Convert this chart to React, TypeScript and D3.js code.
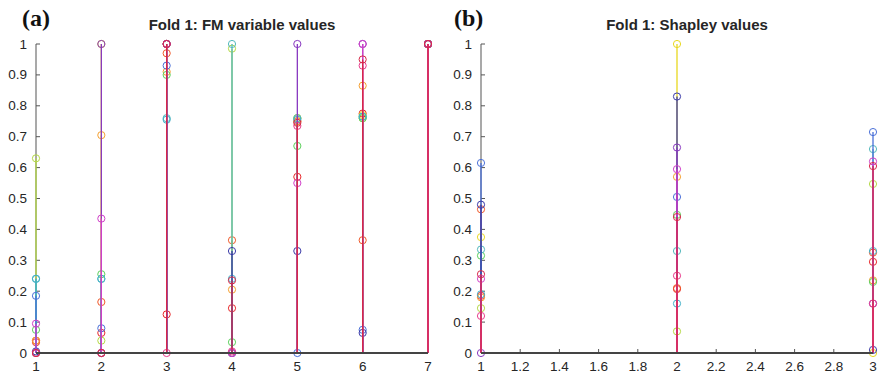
import React from "react";
import * as d3 from "d3";

// ---- data ----
const seriesNames = ["s1","s2","s3","s4","s5","s6","s7","s8","s9","s10","s11","s12","s13","s14"];
const fmX = [1, 2, 3, 4, 5, 6, 7];
const shapleyX = [1, 2, 3];
// FM variable values, one row per series (x = 1..7)
const fmValues: number[][] = [
  [0.035, 0.065, 0.125, 0.145, 0.57, 0.775, 1],
  [0.04, 0.165, 0.97, 0.365, 0.75, 0.365, 1],
  [0.04, 0.705, 0.91, 0.205, 0.75, 0.865, 1],
  [0, 1, 1, 0, 0.76, 0.77, 1],
  [0.63, 0.04, 1, 0.985, 0.76, 0.76, 1],
  [0.075, 0.255, 0.9, 0.035, 0.67, 0.76, 1],
  [0.24, 0.24, 0.76, 1, 0.76, 0.765, 1],
  [0.24, 0.24, 0.755, 0.24, 0.755, 0.765, 1],
  [0.185, 0.08, 0.93, 0, 0, 0.075, 1],
  [0.005, 0, 1, 0.33, 0.33, 0.065, 1],
  [0, 1, 1, 0, 1, 1, 1],
  [0.095, 0.435, 1, 0, 0.55, 1, 1],
  [0, 0, 0, 0.005, 0.735, 0.93, 1],
  [0, 0, 1, 0.235, 0.745, 0.95, 1],
];
// Shapley values, one row per series (x = 1..3)
const shapleyValues: number[][] = [
  [0.185, 0.207, 0.295],
  [0.465, 0.21, 0.325],
  [0.18, 0.57, 0.235],
  [0.375, 1, 0],
  [0.145, 0.07, 0.547],
  [0.315, 0.447, 0.23],
  [0.335, 0.33, 0.66],
  [0.19, 0.16, 0.33],
  [0.615, 0.505, 0.715],
  [0.48, 0.83, 0.01],
  [0, 0.665, 0.16],
  [0.24, 0.595, 0.62],
  [0.12, 0.25, 0.16],
  [0.255, 0.44, 0.605],
];
const yTicks = [0, 0.1, 0.2, 0.3, 0.4, 0.5, 0.6, 0.7, 0.8, 0.9, 1];
const fmXTicks = [1, 2, 3, 4, 5, 6, 7];
const shapleyXTicks = [1, 1.2, 1.4, 1.6, 1.8, 2, 2.2, 2.4, 2.6, 2.8, 3];

// ---- styles ----
const palette = [
  "#e8282a", "#f05a2a", "#f5a030", "#e8d820", "#b4d844", "#5cd05c", "#52b8bc",
  "#40b0c8", "#4a70d8", "#3a3aa8", "#8838c0", "#d040c8", "#e83c8c", "#d82848",
];
const FONT = "'Liberation Sans', Arial, Helvetica, sans-serif";

type PanelProps = {
  x0: number; x1: number; domain: [number, number];
  xs: number[]; values: number[][]; xTicks: number[];
  title: string; titleX: number; label: string; labelX: number;
};

function Panel(p: PanelProps) {
  const x = d3.scaleLinear().domain(p.domain).range([p.x0, p.x1]);
  const y = d3.scaleLinear().domain([0, 1]).range([353, 44]);
  const fmt = (v: number) => d3.format("~g")(+v.toFixed(1));
  return (
    <g>
      <text x={p.labelX} y={26} fontFamily="'Liberation Serif', 'Times New Roman', serif"
        fontWeight="bold" fontSize={24} fill="#111">{p.label}</text>
      <text x={p.titleX} y={30} textAnchor="middle" fontFamily={FONT} fontWeight="bold"
        fontSize={15} fill="#262626">{p.title}</text>
      {/* y axis */}
      <line x1={p.x0} x2={p.x0} y1={y(0)} y2={y(1)} stroke="#707070" strokeWidth={1.2} />
      {yTicks.map((t) => (
        <g key={"yt" + t}>
          <line x1={p.x0} x2={p.x0 + 4} y1={y(t)} y2={y(t)} stroke="#555" strokeWidth={1} />
          <text x={p.x0 - 9} y={y(t) + 4.5} textAnchor="end" fontFamily={FONT} fontSize={13.5}
            fill="#262626">{t === 0 ? "0" : t === 1 ? "1" : fmt(t)}</text>
        </g>
      ))}
      {p.xTicks.map((t) => (
        <g key={"xt" + t}>
          <line x1={x(t)} x2={x(t)} y1={y(0)} y2={y(0) - 4} stroke="#555" strokeWidth={1} />
          <text x={x(t)} y={371} textAnchor="middle" fontFamily={FONT} fontSize={13.5}
            fill="#262626">{fmt(t)}</text>
        </g>
      ))}
      {/* stems */}
      {p.values.map((row, si) => (
        <g key={"s" + si}>
          {row.map((v, i) => (
            <line key={i} x1={x(p.xs[i])} x2={x(p.xs[i])} y1={y(0)} y2={y(v)}
              stroke={palette[si]} strokeWidth={1.3} />
          ))}
          {row.map((v, i) => (
            <circle key={"c" + i} cx={x(p.xs[i])} cy={y(v)} r={3.6} fill="none"
              stroke={palette[si]} strokeWidth={1} />
          ))}
        </g>
      ))}
      {/* baseline */}
      <line x1={p.x0} x2={p.x1} y1={y(0)} y2={y(0)} stroke="#444" strokeWidth={2} />
    </g>
  );
}

export default function App() {
  return (
    <svg width={879} height={376} style={{ display: "block", position: "absolute", left: 0, top: 0 }}>
      <rect width={879} height={376} fill="#fff" />
      <Panel x0={36} x1={428} domain={[1, 7]} xs={fmX} values={fmValues} xTicks={fmXTicks}
        title="Fold 1: FM variable values" titleX={242} label="(a)" labelX={22} />
      <Panel x0={481} x1={873} domain={[1, 3]} xs={shapleyX} values={shapleyValues}
        xTicks={shapleyXTicks} title="Fold 1: Shapley values" titleX={687} label="(b)" labelX={454} />
    </svg>
  );
}
